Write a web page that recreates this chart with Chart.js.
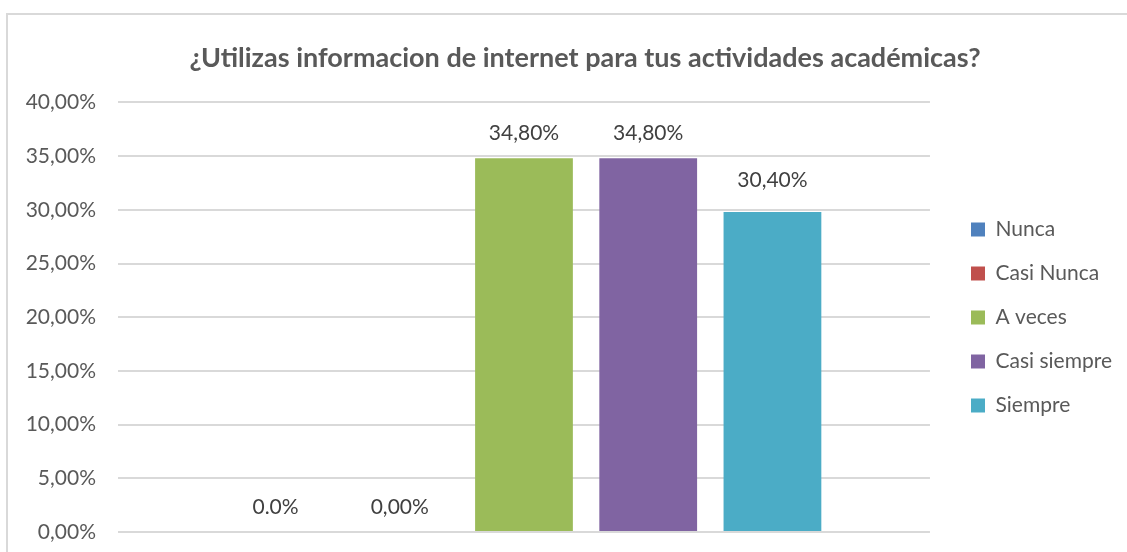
<!DOCTYPE html>
<html>
<head>
<meta charset="utf-8">
<script src="https://cdn.jsdelivr.net/npm/chart.js@4"></script>
<style>
  body { margin: 0; background: #fff; }
  canvas { display: block; }
</style>
</head>
<body>
<canvas id="chart" width="1127" height="552"></canvas>
<script>
// Chart data
const categories = ['Nunca', 'Casi Nunca', 'A veces', 'Casi siempre', 'Siempre'];
const barValues = [0, 0, 34.8, 34.8, 29.8];
const labelTexts = ['0.0%', '0,00%', '34,80%', '34,80%', '30,40%'];
const labelValues = [0, 0, 34.8, 34.8, 30.4];
const barColors = ['#4F81BD', '#C0504D', '#9BBB59', '#8064A2', '#4BACC6'];
const yMin = 0, yMax = 40, yStep = 5;

const FONT = 'Lato, "Liberation Sans", sans-serif';

// Light grey frame round the chart, like the Excel chart border
const framePlugin = {
    id: 'frame',
    beforeDraw(chart) {
        const ctx = chart.ctx;
        ctx.save();
        ctx.strokeStyle = '#d9d9d9';
        ctx.lineWidth = 2;
        ctx.strokeRect(7, 14, 1300, 700);
        ctx.restore();
    }
};

// Value labels above each bar
const valueLabels = {
    id: 'valueLabels',
    afterDatasetsDraw(chart) {
        const ctx = chart.ctx;
        const y = chart.scales.y;
        ctx.save();
        ctx.font = '21px ' + FONT;
        ctx.fillStyle = '#404040';
        ctx.textAlign = 'center';
        ctx.textBaseline = 'middle';
        chart.data.datasets.forEach((ds, i) => {
            const bar = chart.getDatasetMeta(i).data[0];
            ctx.fillText(labelTexts[i], bar.x, y.getPixelForValue(labelValues[i]) - 25);
        });
        ctx.restore();
    }
};

// Nudge title and legend to where Excel put them
const placeBlocks = {
    id: 'placeBlocks',
    afterLayout(chart) {
        const t = chart.titleBlock;
        t.left += 33;
        t.right += 33;
        const lg = chart.legend;
        const dx = 948 - lg.left;
        lg.left += dx;
        lg.right += dx;
        const dy = 196 - lg.top;
        lg.top += dy;
        lg.bottom += dy;
    }
};

const ctx = document.getElementById('chart').getContext('2d');
new Chart(ctx, {
    type: 'bar',
    data: {
        labels: [''],
        datasets: categories.map((name, i) => ({
            label: name,
            data: [barValues[i]],
            backgroundColor: barColors[i],
            borderWidth: 0,
            categoryPercentage: 0.765,
            barPercentage: 0.787
        }))
    },
    options: {
        responsive: false,
        animation: false,
        layout: { padding: { left: 0, right: 23, top: 0, bottom: 20 } },
        plugins: {
            title: {
                display: true,
                text: '¿Utilizas informacion de internet para tus actividades académicas?',
                color: '#595959',
                font: { family: FONT, size: 27, weight: 'bold' },
                padding: { top: 42, bottom: 28 }
            },
            legend: {
                position: 'right',
                align: 'start',
                labels: {
                    color: '#595959',
                    font: { family: FONT, size: 21 },
                    boxWidth: 14,
                    boxHeight: 14,
                    padding: 23
                }
            },
            tooltip: { enabled: false }
        },
        scales: {
            x: {
                display: false
            },
            y: {
                min: yMin,
                max: yMax,
                border: { display: false },
                grid: {
                    color: '#d9d9d9',
                    lineWidth: 2,
                    drawTicks: true,
                    tickLength: 22,
                    tickColor: 'rgba(0,0,0,0)'
                },
                ticks: {
                    stepSize: yStep,
                    padding: 0,
                    color: '#595959',
                    font: { family: FONT, size: 21 },
                    callback: v => v.toFixed(2).replace('.', ',') + '%'
                },
                afterFit(scale) { scale.width = 118; }
            }
        }
    },
    plugins: [framePlugin, valueLabels, placeBlocks]
});
</script>
</body>
</html>
